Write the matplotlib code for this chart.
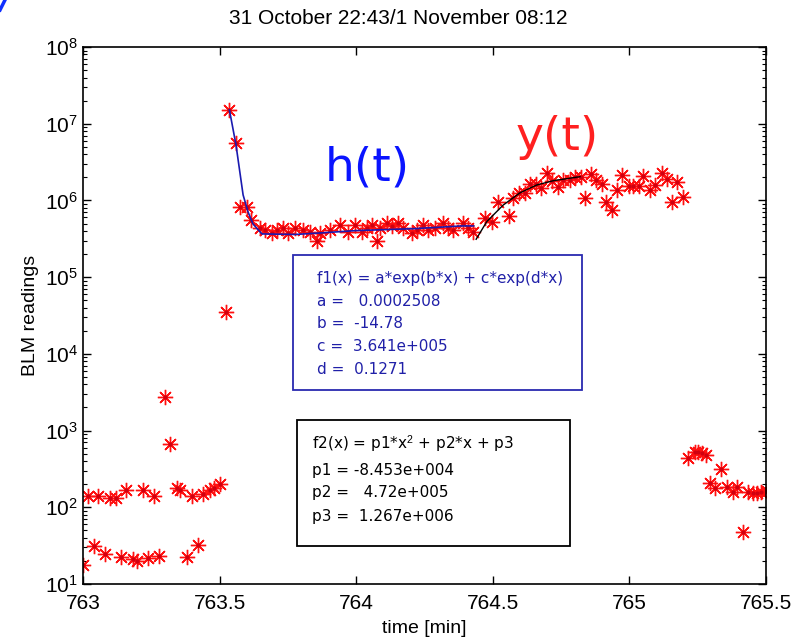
import numpy as np
import matplotlib.pyplot as plt
from matplotlib.lines import Line2D
from matplotlib.patches import Rectangle

plt.rcParams['font.family'] = ['Liberation Sans', 'DejaVu Sans']
plt.rcParams['mathtext.fontset'] = 'custom'
plt.rcParams['mathtext.rm'] = 'Liberation Sans'
plt.rcParams['mathtext.it'] = 'Liberation Sans'

# BLM readings [time in min, value]
# before the step: two bands of low readings plus a couple of spikes
t_pre = [763.000, 763.017, 763.041, 763.056, 763.081, 763.099, 763.121, 763.138,
         763.156, 763.182, 763.197, 763.219, 763.237, 763.260, 763.279, 763.300,
         763.318, 763.343, 763.355, 763.382, 763.398, 763.422, 763.438, 763.465,
         763.480, 763.501, 763.523]
v_pre = [17.7, 140, 31, 140, 24.6, 132, 132, 22.5,
         168, 21.2, 20.1, 168, 21.8, 140, 23.4, 2740,
         668, 179, 170, 22.5, 140, 32.2, 149, 168,
         179, 201, 35200]

# decay part, fitted with h(t)
t_h = [763.536, 763.560, 763.575, 763.599, 763.614, 763.648, 763.666, 763.691,
       763.709, 763.733, 763.751, 763.776, 763.806, 763.831, 763.855, 763.867,
       763.904, 763.941, 763.971, 763.996, 764.020, 764.038, 764.057, 764.075,
       764.087, 764.111, 764.130, 764.154, 764.172, 764.203, 764.221, 764.246,
       764.264, 764.288, 764.319, 764.337, 764.355, 764.392, 764.410, 764.429]
v_h = [1.51e7, 5.68e6, 8.1e5, 8.1e5, 5.5e5, 4.34e5, 4.1e5, 3.73e5,
       4.1e5, 4.34e5, 3.73e5, 4.34e5, 4.1e5, 3.85e5, 2.97e5, 3.73e5,
       4.1e5, 4.8e5, 3.85e5, 4.8e5, 3.85e5, 4.34e5, 4.8e5, 2.97e5,
       4.34e5, 5.14e5, 4.6e5, 5.14e5, 4.34e5, 3.73e5, 4.1e5, 4.8e5,
       4.1e5, 4.34e5, 5.14e5, 4.34e5, 4.1e5, 5.14e5, 4.34e5, 3.85e5]

# growth part, fitted with y(t)
t_y = [764.471, 764.496, 764.520, 764.560, 764.575, 764.597, 764.618, 764.636,
       764.658, 764.675, 764.700, 764.715, 764.740, 764.758, 764.783, 764.801,
       764.822, 764.837, 764.858, 764.878, 764.899, 764.914, 764.935, 764.953,
       764.972, 764.999, 765.014, 765.036, 765.051, 765.075, 765.094, 765.118,
       765.136, 765.155, 765.173, 765.197]
v_y = [5.86e5, 5.3e5, 9.6e5, 6.28e5, 1.07e6, 1.26e6, 1.25e6, 1.64e6,
       1.64e6, 1.44e6, 2.26e6, 1.81e6, 1.5e6, 1.83e6, 1.87e6, 2.04e6,
       2.0e6, 1.07e6, 2.21e6, 1.83e6, 1.66e6, 9.6e5, 7.4e5, 1.37e6,
       2.14e6, 1.55e6, 1.55e6, 1.55e6, 2.08e6, 1.37e6, 1.6e6, 2.31e6,
       1.92e6, 9.6e5, 1.76e6, 1.12e6]

# after the dump
t_post = [765.216, 765.240, 765.252, 765.265, 765.280, 765.295, 765.313, 765.334,
          765.356, 765.378, 765.395, 765.417, 765.435, 765.453, 765.466, 765.481,
          765.502]
v_post = [436, 531, 531, 515, 481, 209, 177, 313,
          186, 160, 186, 48, 160, 155, 155, 157,
          163]

# fitted curves
t_f1 = [763.536, 763.560, 763.586, 763.604, 763.622, 763.655, 763.776, 763.886,
        763.996, 764.215, 764.386, 764.430]
v_f1 = [1.51e7, 5.3e6, 1.18e6, 7.1e5, 4.94e5, 3.66e5, 3.6e5, 3.8e5,
        4.04e5, 4.29e5, 4.65e5, 4.65e5]
t_f2 = [764.439, 764.478, 764.538, 764.600, 764.661, 764.722, 764.783, 764.819]
v_f2 = [3.12e5, 5.3e5, 8.7e5, 1.26e6, 1.59e6, 1.81e6, 1.95e6, 2.04e6]

W, H = 793, 640
fig = plt.figure(figsize=(W / 100, H / 100), dpi=100)
ax = fig.add_axes([83 / W, 1 - 584 / H, (766 - 83) / W, (584 - 47) / H])

star = dict(ls='none', marker=(8, 2, 0), ms=11, mew=1.0, color='#ff1010')
for t, v in [(t_pre, v_pre), (t_h, v_h), (t_y, v_y), (t_post, v_post)]:
    ax.plot(t, v, **star)
    ax.plot(t, v, ls='none', marker='o', ms=3, mew=0, color='#d00010')
ax.plot(t_f1, v_f1, color='#1a1ab0', lw=1.2)
ax.plot(t_f2, v_f2, color='black', lw=1.0)

ax.set_yscale('log')
ax.set_xlim(763, 765.5)
ax.set_ylim(1e1, 1e8)
ax.set_xticks([763, 763.5, 764, 764.5, 765, 765.5])
ax.set_xticklabels(['763', '763.5', '764', '764.5', '765', '765.5'])
ax.tick_params(which='both', direction='in', top=True, right=True, labelsize=15)
ax.tick_params(which='major', length=6, width=1)
ax.tick_params(which='minor', length=3, width=0.8)
ax.tick_params(axis='x', pad=7)
ax.xaxis.get_offset_text().set_visible(False)
ax.yaxis.get_offset_text().set_visible(False)
for s in ax.spines.values():
    s.set_linewidth(1.2)

ax.set_xlabel('time [min]', fontsize=14, labelpad=5)
ax.set_ylabel('BLM readings', fontsize=14, labelpad=4)
fig.text(398 / W, 1 - 18 / H, '31 October 22:43/1 November 08:12',
         ha='center', va='center', fontsize=15)

# curve names
fig.text(367 / W, 1 - 168 / H, 'h(t)', color='#0a14ff', fontsize=34,
         family='DejaVu Sans', ha='center', va='center')
fig.text(557 / W, 1 - 138 / H, 'y(t)', color='#ff2020', fontsize=34,
         family='DejaVu Sans', ha='center', va='center')

# fit result boxes
def box(x0, y0, x1, y1, ec):
    fig.add_artist(Rectangle((x0 / W, 1 - y1 / H), (x1 - x0) / W, (y1 - y0) / H,
                             transform=fig.transFigure, fill=True, fc='white',
                             ec=ec, lw=1.3))

box(293, 255, 582, 390, '#2a2ab0')
f1_lines = ['f1(x) = a*exp(b*x) + c*exp(d*x)', 'a =   0.0002508', 'b =  -14.78',
            'c =  3.641e+005', 'd =  0.1271']
for k, s in enumerate(f1_lines):
    fig.text(317 / W, 1 - (279 + 22.5 * k) / H, s, color='#2020a8', fontsize=11,
             family='DejaVu Sans', ha='left', va='center')

box(297, 420, 570, 546, 'black')
f2_lines = ['f2(x) = p1*x$^2$ + p2*x + p3', 'p1 = -8.453e+004', 'p2 =   4.72e+005',
            'p3 =  1.267e+006']
f2_y = [444, 470, 492, 516]
for s, yy in zip(f2_lines, f2_y):
    fig.text(312 / W, 1 - yy / H, s, color='black', fontsize=11,
             family='DejaVu Sans', ha='left', va='center')

# stray pen stroke in the corner
fig.add_artist(Line2D([0, 5 / W], [1 - 10 / H, 1], color='#1030ff', lw=2.5,
                      transform=fig.transFigure))

fig.savefig('out.png', dpi=100)
